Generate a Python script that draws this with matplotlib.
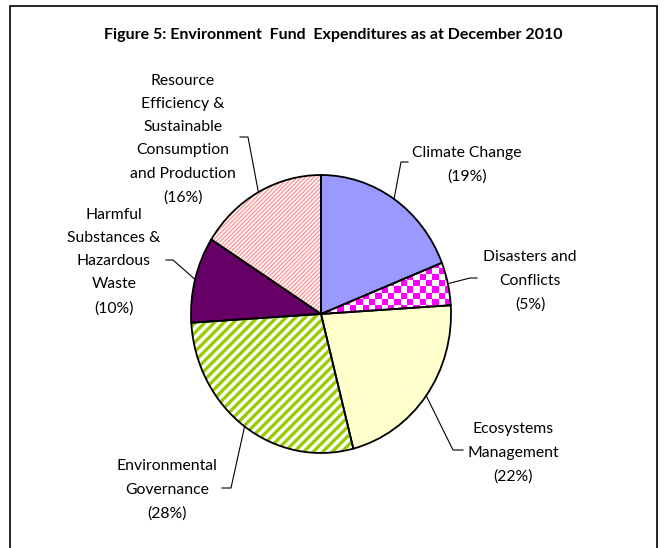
import numpy as np
import matplotlib.pyplot as plt
from matplotlib.patches import Wedge, Rectangle
from matplotlib.collections import LineCollection

plt.rcParams['font.family'] = ['Lato', 'DejaVu Sans']

title = 'Figure 5: Environment  Fund  Expenditures as at December 2010'
labels = ['Climate Change', 'Disasters and\nConflicts', 'Ecosystems\nManagement',
          'Environmental\nGovernance', 'Harmful\nSubstances &\nHazardous\nWaste',
          'Resource\nEfficiency &\nSustainable\nConsumption\nand Production']
shares = [19, 5, 22, 28, 10, 16]
fills = ['#9999FF', 'white', '#FFFFCC', 'white', '#660066', 'white']

# label block centres, leader elbows and leader ends (pixel coords, y down)
text_pos = [(467, 164.5), (530, 281), (513, 453), (167, 490), (114, 261.5), (183, 139)]
elbows = [(401, 162), (470, 278), (453, 450), (231, 488), (173, 260), (248, 137)]
ends = [(408, 162), (477, 278), (463, 450), (222, 488), (166, 260), (240, 137)]

W, H = 667, 548
RX, RY = 130, 139
K = RX / RY


def P(x, y):
    return x, (H - y) * K


fig = plt.figure(figsize=(6.67, 5.48), dpi=100)
ax = fig.add_axes([0, 0, 1, 1])

cx, cy = P(321, 314)
wedges, _ = ax.pie(shares, colors=fills, startangle=90, counterclock=False,
                   center=(cx, cy), radius=RX, wedgeprops=dict(linewidth=0))


def stripes(wedge, x0, x1, y0, y1, step, color, lw):
    segs = []
    for c in np.arange(x0 + y0, x1 + y1, step):
        segs.append([P(x0 - 20, c - x0 + 20), P(x1 + 20, c - x1 - 20)])
    lc = LineCollection(segs, colors=color, linewidths=lw, zorder=1.5)
    ax.add_collection(lc)
    lc.set_clip_path(wedge)


# diagonal stripes
stripes(wedges[3], 180, 360, 300, 470, 9.5, '#99CC00', 2.4)
stripes(wedges[5], 180, 330, 160, 330, 4.2, '#FF9999', 1.0)

# checkerboard
s = 6.3
nx, ny = 24, 10
yy, xx = np.mgrid[0:ny, 0:nx]
board = ((xx + yy) % 2 == 0)
rgb = np.ones((ny, nx, 3))
rgb[board] = [1.0, 0.0, 1.0]
x0, y0 = 312, 255
left, top = P(x0, y0)
right, bottom = P(x0 + nx * s, y0 + ny * s)
im = ax.imshow(rgb, extent=(left, right, bottom, top), interpolation='nearest', zorder=1.5)
im.set_clip_path(wedges[1])

# slice outlines
for w in wedges:
    ax.add_patch(Wedge(w.center, w.r, w.theta1, w.theta2, fill=False,
                       edgecolor='black', linewidth=1.3, zorder=3))

# labels with leader lines
for w, lab, share, tp, el, en in zip(wedges, labels, shares, text_pos, elbows, ends):
    mid = np.deg2rad((w.theta1 + w.theta2) / 2)
    start = (cx + RX * np.cos(mid), cy + RX * np.sin(mid))
    pts = [start, P(*el), P(*en)]
    ax.plot([p[0] for p in pts], [p[1] for p in pts], color='black', linewidth=0.8, zorder=4)
    ax.text(*P(*tp), f'{lab}\n({share}%)', ha='center', va='center',
            multialignment='center', fontsize=11.3, linespacing=1.84)

ax.text(*P(333, 35), title, ha='center', va='center', fontsize=11.5, fontweight='bold')

ax.add_patch(Rectangle(P(10, 570), 647, (570 - 6) * K, fill=False,
                       edgecolor='black', linewidth=1.2, zorder=5))

ax.set_aspect('auto')
ax.set_xlim(0, W)
ax.set_ylim(0, H * K)
ax.axis('off')

fig.savefig('out.png', dpi=100)
